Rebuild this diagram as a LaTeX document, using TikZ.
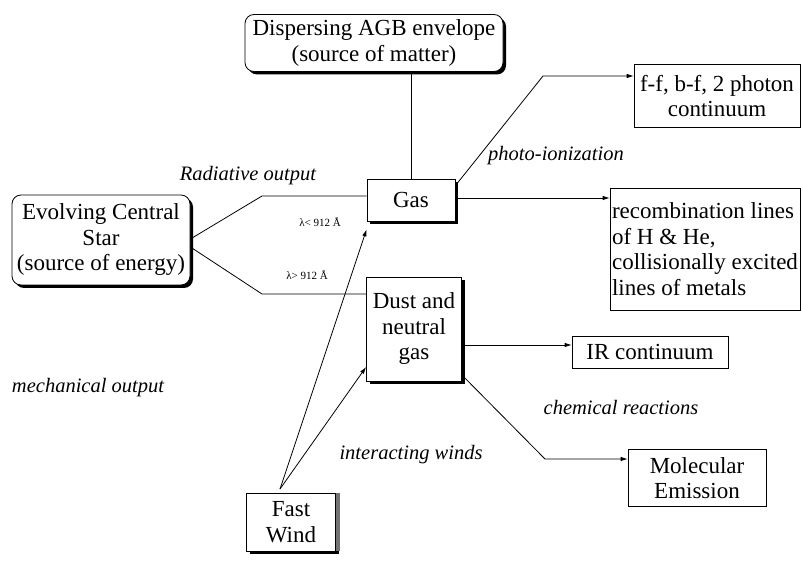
\documentclass[tikz,border=0pt]{standalone}
\usepackage{fontspec}
\setmainfont{Liberation Serif}
\usepackage{tikz}
\usetikzlibrary{positioning,shadows,arrows.meta}

\tikzset{
  boxtext/.style={font=\fontsize{23}{25.5}\selectfont},
  labeltext/.style={font=\fontsize{20.5}{22}\selectfont\itshape},
  lambdatext/.style={font=\fontsize{11}{12}\selectfont},
  sourcebox/.style={draw, line width=0.8pt, rounded corners=9pt, fill=white, align=center, inner sep=0pt,
    drop shadow={shadow xshift=3pt, shadow yshift=-3pt, fill=black, opacity=1}, boxtext},
  phasebox/.style={draw, line width=0.8pt, fill=white, align=center, inner sep=0pt,
    drop shadow={shadow xshift=3pt, shadow yshift=-3pt, fill=black, opacity=1}, boxtext},
  outbox/.style={draw, line width=0.6pt, fill=white, align=center, inner sep=0pt, boxtext},
}

\begin{document}
\begin{tikzpicture}[x=1pt, y=-1pt, line width=0.8pt, >={Latex[length=7pt,width=4.5pt]}]
        \useasboundingbox (0,0) rectangle (803,561);

        % sources
        \node[sourcebox, minimum width=178pt, minimum height=90pt] (star) at (101,240) {Evolving Central\\Star\\(source of energy)};
        \node[sourcebox, minimum width=258pt, minimum height=57pt] (agb) at (374,43) {Dispersing AGB envelope\\(source of matter)};

        % phases
        \node[phasebox, minimum width=88pt, minimum height=42pt] (gas) at (411,200) {Gas};
        \node[phasebox, minimum width=95pt, minimum height=104pt] (dust) at (414,329) {Dust and\\neutral\\gas};
        \node[phasebox, minimum width=89pt, minimum height=58pt,
          drop shadow={shadow xshift=4pt, shadow yshift=0pt, fill=black!55, opacity=1}] (wind) at (291,522) {Fast\\Wind};

        % outputs
        \node[outbox, minimum width=166pt, minimum height=63pt] (ff) at (717,96) {f-f, b-f, 2 photon\\continuum};
        \node[outbox, minimum width=190pt, minimum height=122pt, align=left] (recomb) at (705,249) {recombination lines\\of H \& He,\\collisionally excited\\lines of metals};
        \node[outbox, minimum width=156pt, minimum height=32pt] (ir) at (650,352) {IR continuum};
        \node[outbox, minimum width=138pt, minimum height=57pt] (mol) at (697,478) {Molecular\\Emission};

        % labels
        \node[labeltext] (radlab) at (248,176) {Radiative output};
        \node[labeltext] (photolab) at (556,156) {photo-ionization};
        \node[labeltext] (mechlab) at (88,388) {mechanical output};
        \node[labeltext] (windlab) at (411,455) {interacting winds};
        \node[labeltext] (chemlab) at (621,407) {chemical reactions};
        \node[lambdatext] (uvlab) at (320,222) {λ< 912 Å};
        \node[lambdatext] (optlab) at (307,275) {λ> 912 Å};

        % bends
        \coordinate (bendup) at (262,196);
        \coordinate (benddn) at (262,294);
        \coordinate (bendff) at (543,76);
        \coordinate (bendmol) at (545,459);
        \coordinate (windtip) at (280,489);

        \draw (gas.north |- agb.south) -- (gas.north);
        \draw ([yshift=1pt]star.east) -- (bendup) -- (bendup -| gas.west);
        \draw ([yshift=-7pt]star.east) -- (benddn) -- (benddn -| dust.west);
        \draw[->] ([yshift=-7pt]gas.north east) -- (bendff) -- (bendff -| ff.west);
        \draw[->] ([yshift=2pt]gas.east) -- ([yshift=2pt]gas.east -| recomb.west);
        \draw[->] ([yshift=-16pt]dust.east) -- ([yshift=-16pt]dust.east -| ir.west);
        \draw[->] ([yshift=-46pt]dust.east) -- (bendmol) -- (bendmol -| mol.west);
        \draw[->] (windtip) -- ([yshift=-8pt]gas.south west);
        \draw[->] (windtip) -- ([yshift=-38pt]dust.west);
    \end{tikzpicture}
\end{document}
